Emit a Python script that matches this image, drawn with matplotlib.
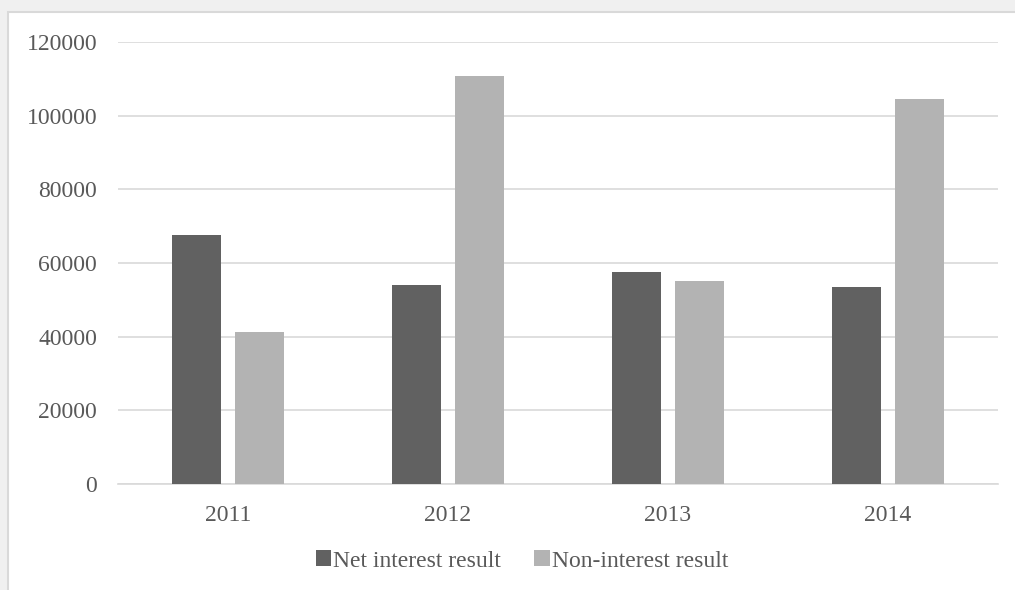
import matplotlib
matplotlib.use("Agg")
import matplotlib.pyplot as plt
import numpy as np
from matplotlib.patches import Rectangle

# ---- data ----
years = ["2011", "2012", "2013", "2014"]
netInterest = [67600, 54000, 57600, 53400]
nonInterest = [41200, 110700, 55200, 104400]
seriesNames = ["Net interest result", "Non-interest result"]

plt.rcParams['font.family'] = ['Liberation Serif', 'DejaVu Serif']

fig = plt.figure(figsize=(10.15, 5.9), dpi=100)
fig.patch.set_facecolor("#f0f0f0")

# white chart area with light border (cut off on right / bottom)
fig.patches.append(Rectangle((8 / 1015, -0.05), 1.1, (590 - 12) / 590 + 0.05,
                             transform=fig.transFigure, facecolor="white",
                             edgecolor="#d9d9d9", linewidth=1.5, zorder=-5))

ax = fig.add_axes([118 / 1015, 106 / 590, 880 / 1015, 442 / 590])
ax.set_zorder(1)
ax.set_facecolor("white")

x = np.arange(len(years))
w = 0.224
off = 0.143
b1 = ax.bar(x - off, netInterest, w, color="#616161", label=seriesNames[0], zorder=3)
b2 = ax.bar(x + off, nonInterest, w, color="#b3b3b3", label=seriesNames[1], zorder=3)

ax.set_xlim(-0.5, len(years) - 0.5)
ax.set_ylim(0, 120000)
ax.set_yticks(np.arange(0, 120001, 20000))
ax.set_xticks(x)
ax.set_xticklabels(years)

ax.grid(axis="y", color="#d9d9d9", linewidth=1.2, zorder=0)
for s in ["top", "right", "left"]:
    ax.spines[s].set_visible(False)
ax.spines["bottom"].set_color("#d9d9d9")
ax.spines["bottom"].set_linewidth(1.2)
ax.tick_params(axis="both", length=0, labelsize=17, colors="#595959")
ax.tick_params(axis="y", pad=15)
ax.tick_params(axis="x", pad=15)

leg = fig.legend(handles=[b1, b2], loc="center", bbox_to_anchor=(522 / 1015, 1 - 561 / 590),
                 ncol=2, frameon=False, fontsize=17, handlelength=0.65, handleheight=0.65,
                 handletextpad=0.1, columnspacing=1.4, labelcolor="#595959")

fig.savefig("out.png", dpi=100, facecolor=fig.get_facecolor())
